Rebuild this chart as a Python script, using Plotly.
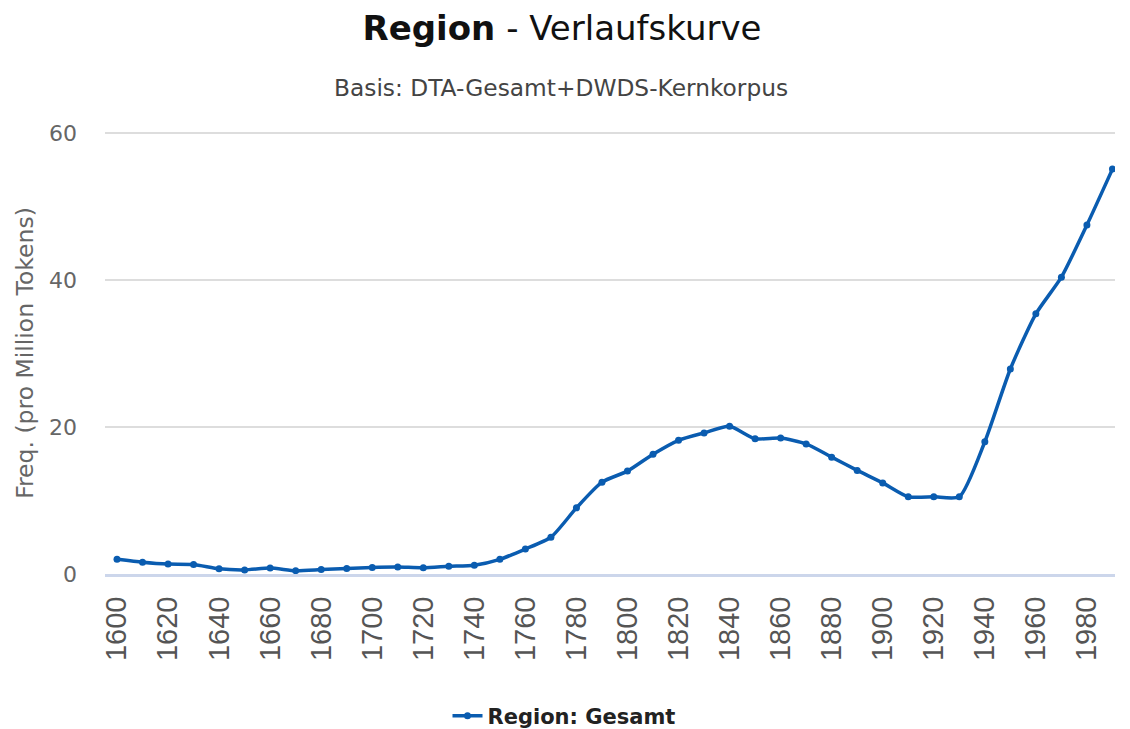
import plotly.graph_objects as go

years = list(range(1600, 2000, 10))
freq = [2.0, 1.6, 1.35, 1.3, 0.7, 0.55, 0.8, 0.45, 0.6, 0.75,
        0.9, 0.95, 0.85, 1.05, 1.2, 2.0, 3.4, 5.0, 9.0, 12.5,
        14.0, 16.3, 18.2, 19.2, 20.1, 18.4, 18.5, 17.7, 15.9, 14.1,
        12.4, 10.5, 10.5, 10.5, 18.0, 27.9, 35.4, 40.4, 47.5, 55.1]
tick_years = list(range(1600, 1990, 20))
y_ticks = [0, 20, 40, 60]

title_bold = "Region"
title_rest = " - Verlaufskurve"
subtitle = "Basis: DTA-Gesamt+DWDS-Kernkorpus"
series_name = "Region: Gesamt"
y_title = "Freq. (pro Million Tokens)"

color = "#0a5cb0"
OFF = 8  # page body margin
W, H = 1130 - OFF, 729 - OFF
ml, mr, mt, mb = 105 - OFF, 15, 132 - OFF, 155

fig = go.Figure()
fig.add_trace(go.Scatter(
    x=years, y=freq, mode="lines+markers", name=series_name,
    line=dict(color=color, width=3.5, shape="spline", smoothing=0.6),
    marker=dict(color=color, size=7, symbol="circle"),
))

fig.update_layout(
    width=W, height=H,
    paper_bgcolor="white", plot_bgcolor="white",
    margin=dict(l=ml, r=mr, t=mt, b=mb, autoexpand=False),
    title=dict(
        text=f"<b>{title_bold}</b>{title_rest}",
        x=(562 - OFF) / W, xanchor="center", xref="container",
        y=1 - (28 - OFF) / H, yanchor="middle", yref="container",
        font=dict(family="DejaVu Sans", size=34, color="#111111"),
    ),
    annotations=[dict(
        text=subtitle, xref="paper", yref="paper",
        x=(561 - OFF - ml) / (W - ml - mr), y=1.0,
        xanchor="center", yanchor="middle", yshift=mt - (87 - OFF),
        showarrow=False, font=dict(family="DejaVu Sans", size=23.3, color="#444444"),
    )],
    showlegend=True,
    legend=dict(
        orientation="h", xref="container", x=(564 - OFF) / W, xanchor="center",
        yref="container", y=1 - (716 - OFF) / H, yanchor="middle",
        font=dict(family="DejaVu Sans", size=21, color="#222222", weight="bold"),
    ),
    xaxis=dict(
        range=[1595.3, 1991], tickmode="array", tickvals=tick_years,
        ticktext=[str(t) for t in tick_years], tickangle=-90,
        tickfont=dict(family="Liberation Sans", size=29, color="#555555"),
        showgrid=False, zeroline=False, showline=True, linecolor="#ccd6eb",
        linewidth=3, ticks="", ticklabelstandoff=8, automargin=False,
    ),
    yaxis=dict(
        range=[0, 60.15], tickmode="array", tickvals=y_ticks,
        tickfont=dict(family="DejaVu Sans", size=22, color="#666666"),
        showgrid=True, gridcolor="#dddddd", gridwidth=2, zeroline=False,
        title=dict(text=y_title, font=dict(family="DejaVu Sans", size=23.5, color="#666666"), standoff=8),
        ticks="", ticklabelstandoff=27, automargin=False,
    ),
)

fig.write_html("out.html")
